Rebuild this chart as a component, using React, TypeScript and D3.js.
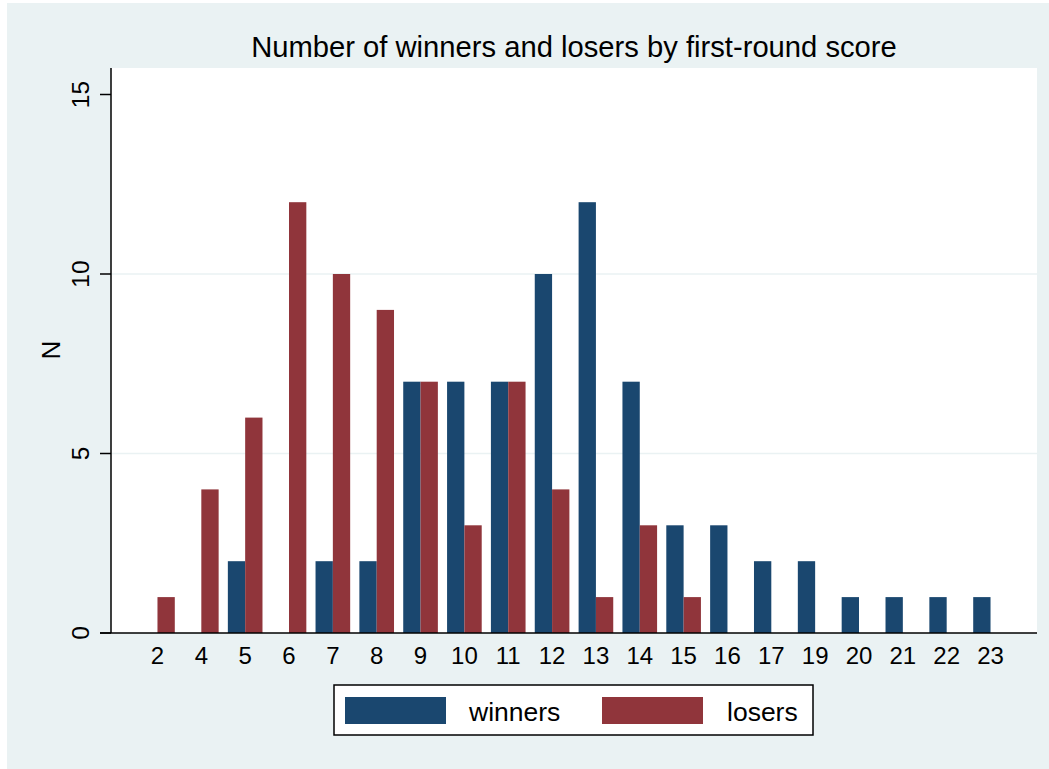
import * as d3 from "d3";

// first-round scores shown on the x axis
const scores = ["2", "4", "5", "6", "7", "8", "9", "10", "11", "12", "13", "14", "15", "16", "17", "19", "20", "21", "22", "23"];
const winners = [0, 0, 2, 0, 2, 2, 7, 7, 7, 10, 12, 7, 3, 3, 2, 2, 1, 1, 1, 1];
const losers = [1, 4, 6, 12, 10, 9, 7, 3, 7, 4, 1, 3, 1, 0, 0, 0, 0, 0, 0, 0];
const yTicks = [0, 5, 10, 15];
const gridTicks = [5, 10];
const seriesNames = ["winners", "losers"];

const W = 1049;
const H = 769;
const plot = { left: 111, right: 1037, top: 68, bottom: 633 };
const FONT = "'Liberation Sans', Arial, Helvetica, sans-serif";
const colors: Record<string, string> = { winners: "#1a476f", losers: "#90353b" };

export default function App() {
  const x = d3.scalePoint<string>().domain(scores).range([plot.left, plot.right]).padding(1.06);
  const y = d3.scaleLinear().domain([0, 15]).range([plot.bottom, plot.bottom - 15 * 35.9]);
  const barW = x.step() * 0.395;
  const sub = d3.scaleBand<string>().domain(seriesNames).range([-barW, barW]);

  const rows = scores.map((s, i) => ({ score: s, winners: winners[i], losers: losers[i] }));

  return (
    <svg width={W} height={H} style={{ position: "absolute", left: 0, top: 0 }} fontFamily={FONT}>
      <rect x={7} y={3} width={W - 7} height={H - 3} fill="#eaf2f3" />
      <rect x={plot.left} y={plot.top} width={plot.right - plot.left} height={plot.bottom - plot.top} fill="#ffffff" />

      {/* title */}
      <text x={(plot.left + plot.right) / 2} y={57} textAnchor="middle" fontSize={29.2} fill="#000">
        Number of winners and losers by first-round score
      </text>

      {/* grid */}
      {gridTicks.map(t => (
        <line key={t} x1={plot.left} x2={plot.right} y1={y(t)} y2={y(t)} stroke="#eaf2f3" strokeWidth={1.6} />
      ))}

      {/* bars */}
      {rows.map(r =>
        seriesNames.map(name => {
          const v = (r as any)[name] as number;
          if (!v) return null;
          return (
            <rect
              key={r.score + name}
              x={(x(r.score) as number) + (sub(name) as number)}
              y={y(v)}
              width={sub.bandwidth()}
              height={y(0) - y(v)}
              fill={colors[name]}
            />
          );
        })
      )}

      {/* axes */}
      <line x1={plot.left} x2={plot.left} y1={plot.top} y2={plot.bottom} stroke="#000" strokeWidth={1.5} />
      <line x1={100} x2={plot.right} y1={plot.bottom} y2={plot.bottom} stroke="#000" strokeWidth={1.5} />
      {yTicks.map(t => (
        <g key={t}>
          <line x1={100} x2={plot.left} y1={y(t)} y2={y(t)} stroke="#000" strokeWidth={1.5} />
          <text
            transform={`translate(89,${y(t)}) rotate(-90)`}
            textAnchor="middle"
            fontSize={24.5}
            fill="#000"
          >
            {t}
          </text>
        </g>
      ))}
      <text transform={`translate(60,${350}) rotate(-90)`} textAnchor="middle" fontSize={26} fill="#000">
        N
      </text>
      {scores.map(s => (
        <text key={s} x={x(s)} y={664} textAnchor="middle" fontSize={24} fill="#000">
          {s}
        </text>
      ))}

      {/* legend */}
      <rect x={334} y={685} width={479} height={50} fill="#fff" stroke="#000" strokeWidth={1.5} />
      <rect x={345} y={697} width={101} height={27} fill={colors.winners} />
      <text x={469} y={721} fontSize={26.5} fill="#000">winners</text>
      <rect x={602} y={697} width={101} height={27} fill={colors.losers} />
      <text x={727} y={721} fontSize={26.5} fill="#000">losers</text>
    </svg>
  );
}
